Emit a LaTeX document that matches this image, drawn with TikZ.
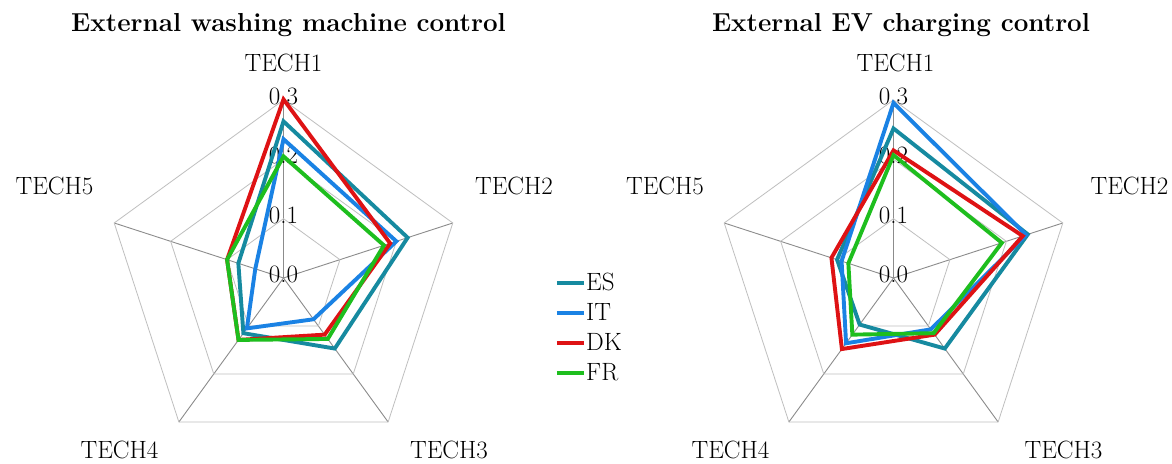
\documentclass[tikz,border=0pt]{standalone}
\usepackage{fontspec}
\definecolor{cES}{RGB}{22,138,160}
\definecolor{cIT}{RGB}{26,130,228}
\definecolor{cDK}{RGB}{222,18,20}
\definecolor{cFR}{RGB}{30,190,30}
\tikzset{
  spoke/.style={draw=black!45, line width=0.9pt},
  gridline/.style={draw=black!25, line width=0.8pt},
  series/.style={line width=3.9pt, line join=miter},
  lbl/.style={font=\fontsize{25}{30}\selectfont, inner sep=0pt},
  ttl/.style={font=\fontsize{26}{31}\selectfont\bfseries, inner sep=0pt},
  legline/.style={line width=3.9pt},
}
\newcommand\radarline[6]{\draw[series,#1] (90:{#2*593.33}) -- (18:{#3*593.33}) -- (-54:{#4*593.33}) -- (-126:{#5*593.33}) -- (162:{#6*593.33}) -- cycle;}
\newcommand\radargrid[1]{%
  \foreach \a in {90,18,-54,-126,162} \draw[spoke] (0,0) -- (\a:178);
  \foreach \r in {59.33,118.67,178} \draw[gridline] (90:\r) -- (18:\r) -- (-54:\r) -- (-126:\r) -- (162:\r) -- cycle;
  \foreach \v/\t in {0/0.0,1/0.1,2/0.2,3/0.3} \node[lbl, anchor=base] (#1n\v) at (0,{\v*59.33-4.5}) {\t};
}
\begin{document}
\begin{tikzpicture}[x=1pt,y=1pt]
\useasboundingbox (0,0) rectangle (1172,463);
\fill[white] (0,0) rectangle (1172,463);

% ---------- left chart ----------
\node[ttl, anchor=base] (titleL) at (288.5,431.3) {External washing machine control};
\begin{scope}[shift={(283.5,185)}]
  \radargrid{L}
  \node[lbl, anchor=base] (L1) at (0,206) {TECH1};
  \node[lbl, anchor=base] (L2) at (230.5,83) {TECH2};
  \node[lbl, anchor=base] (L3) at (165.5,-180) {TECH3};
  \node[lbl, anchor=base] (L4) at (-164,-180) {TECH4};
  \node[lbl, anchor=base] (L5) at (-229,83) {TECH5};
  \radarline{cES}{0.264}{0.220}{0.147}{0.115}{0.080}
  \radarline{cIT}{0.234}{0.200}{0.086}{0.105}{0.050}
  \radarline{cDK}{0.301}{0.189}{0.118}{0.129}{0.100}
  \radarline{cFR}{0.205}{0.178}{0.127}{0.129}{0.100}
\end{scope}

% ---------- legend ----------
\foreach \n/\y/\c in {ES/180/cES, IT/150/cIT, DK/120/cDK, FR/90/cFR}{
  \coordinate (leg\n a) at (556.8,\y);
  \coordinate (leg\n b) at (583.6,\y);
  \draw[legline,\c] (leg\n a) -- (leg\n b);
  \node[lbl, anchor=base west] (leg\n) at (586,{\y-7.5}) {\n};
}

% ---------- right chart ----------
\node[ttl, anchor=base] (titleR) at (901,431.3) {External EV charging control};
\begin{scope}[shift={(893.5,185)}]
  \radargrid{R}
  \node[lbl, anchor=base] (R1) at (2,206) {TECH1};
  \node[lbl, anchor=base] (R2) at (236,83) {TECH2};
  \node[lbl, anchor=base] (R3) at (170,-180) {TECH3};
  \node[lbl, anchor=base] (R4) at (-163,-180) {TECH4};
  \node[lbl, anchor=base] (R5) at (-228.5,83) {TECH5};
  \radarline{cES}{0.252}{0.238}{0.147}{0.097}{0.100}
  \radarline{cIT}{0.295}{0.235}{0.107}{0.136}{0.092}
  \radarline{cDK}{0.215}{0.229}{0.118}{0.148}{0.110}
  \radarline{cFR}{0.207}{0.192}{0.115}{0.118}{0.080}
\end{scope}
\end{tikzpicture}
\end{document}
